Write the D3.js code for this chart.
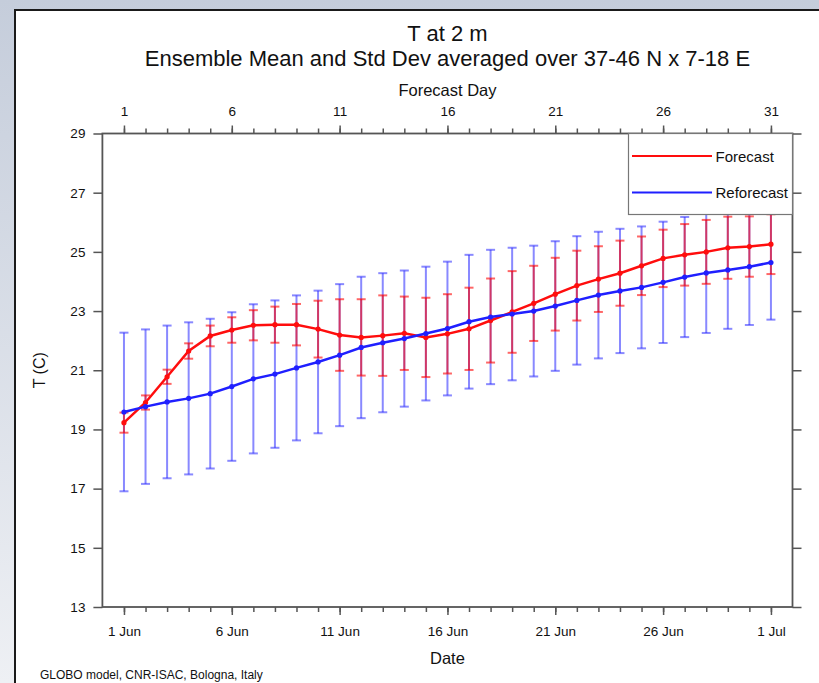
<!DOCTYPE html>
<html>
<head>
<meta charset="utf-8">
<script src="https://cdn.jsdelivr.net/npm/d3@7"></script>
<style>
  html, body { margin: 0; padding: 0; }
  body { width: 819px; height: 683px; overflow: hidden;
         background: linear-gradient(#c5cddb, #eef0f4); }
  text { font-family: "Liberation Sans", Arial, sans-serif; fill: #111; }
</style>
</head>
<body>
<div id="chart"></div>
<script>
// forecast days (x categories)
const days = [1,2,3,4,5,6,7,8,9,10,11,12,13,14,15,16,17,18,19,20,21,22,23,24,25,26,27,28,29,30,31];
const majorDays = [1, 6, 11, 16, 21, 26, 31];
const dateLabels = ['1 Jun', '6 Jun', '11 Jun', '16 Jun', '21 Jun', '26 Jun', '1 Jul'];
const tempTicks = [13, 15, 17, 19, 21, 23, 25, 27, 29];

// ensemble mean / std dev, forecast
const fcMean = [19.23, 19.91, 20.78, 21.65, 22.16, 22.36, 22.52, 22.54, 22.54, 22.39,
                22.19, 22.11, 22.17, 22.25, 22.11, 22.23, 22.40, 22.68, 22.97, 23.26,
                23.57, 23.86, 24.08, 24.28, 24.53, 24.78, 24.90, 25.00, 25.14, 25.18, 25.26];
const fcStd  = [0.34, 0.24, 0.24, 0.26, 0.35, 0.43, 0.51, 0.61, 0.70, 0.96,
                1.21, 1.29, 1.36, 1.24, 1.34, 1.34, 1.39, 1.42, 1.38, 1.27,
                1.23, 1.18, 1.11, 1.10, 0.99, 0.97, 1.04, 1.08, 1.05, 1.02, 1.01];

// ensemble mean / std dev, reforecast
const rfMean = [19.59, 19.77, 19.93, 20.05, 20.21, 20.45, 20.71, 20.87, 21.08, 21.28,
                21.51, 21.77, 21.93, 22.07, 22.24, 22.41, 22.64, 22.80, 22.90, 23.00,
                23.17, 23.36, 23.54, 23.68, 23.80, 23.97, 24.15, 24.29, 24.39, 24.50, 24.64];
const rfStd  = [2.68, 2.61, 2.58, 2.57, 2.53, 2.51, 2.52, 2.49, 2.45, 2.41,
                2.40, 2.39, 2.35, 2.30, 2.26, 2.26, 2.26, 2.27, 2.24, 2.21,
                2.19, 2.17, 2.14, 2.10, 2.06, 2.05, 2.03, 2.03, 1.99, 1.97, 1.93];

const series = [
  { name: 'Reforecast', mean: rfMean, std: rfStd, line: '#1f1fff', bar: 'rgba(40,40,255,0.55)' },
  { name: 'Forecast',   mean: fcMean, std: fcStd, line: '#ff0d0d', bar: 'rgba(255,0,0,0.6)' },
];

const width = 819;
const height = 683;
const plot = { left: 102.4, right: 792.5, top: 133.5, bottom: 607 };

const svg = d3.select('#chart')
  .append('svg')
  .attr('width', width)
  .attr('height', height);

// white panel
svg.append('rect')
  .attr('x', 15).attr('y', 10)
  .attr('width', 820).attr('height', 700)
  .attr('fill', 'white')
  .attr('stroke', '#1a1a1a')
  .attr('stroke-width', 2);

const x = d3.scaleLinear().domain([0, 32]).range([plot.left, plot.right]);
const y = d3.scaleLinear().domain([13, 29]).range([plot.bottom, plot.top]);

// error bars
const capW = 4.5;
series.forEach((s) => {
  const g = svg.append('g').attr('class', 'bars');
  const bars = g.selectAll('g')
    .data(days.map((d, i) => ({ d, lo: s.mean[i] - s.std[i], hi: s.mean[i] + s.std[i] })))
    .enter()
    .append('g')
    .attr('stroke', s.bar)
    .attr('stroke-width', 2);
  bars.append('line')
    .attr('x1', (e) => x(e.d)).attr('x2', (e) => x(e.d))
    .attr('y1', (e) => y(e.lo)).attr('y2', (e) => y(e.hi));
  bars.append('line')
    .attr('x1', (e) => x(e.d) - capW).attr('x2', (e) => x(e.d) + capW)
    .attr('y1', (e) => y(e.hi)).attr('y2', (e) => y(e.hi));
  bars.append('line')
    .attr('x1', (e) => x(e.d) - capW).attr('x2', (e) => x(e.d) + capW)
    .attr('y1', (e) => y(e.lo)).attr('y2', (e) => y(e.lo));
});

// mean lines, forecast under reforecast
[series[1], series[0]].forEach((s) => {
  const pts = days.map((d, i) => [d, s.mean[i]]);
  svg.append('path')
    .datum(pts)
    .attr('fill', 'none')
    .attr('stroke', s.line)
    .attr('stroke-width', 2.5)
    .attr('d', d3.line().x((p) => x(p[0])).y((p) => y(p[1])));
  svg.append('g')
    .selectAll('circle')
    .data(pts)
    .enter()
    .append('circle')
    .attr('cx', (p) => x(p[0]))
    .attr('cy', (p) => y(p[1]))
    .attr('r', 2.6)
    .attr('fill', s.line);
});

// axes
const axisColor = '#555';
const styleAxis = (g) => {
  g.select('.domain').remove();
  g.selectAll('line').attr('stroke', axisColor).attr('stroke-width', 1.5);
  g.selectAll('text').attr('font-size', 13.5).attr('fill', '#111')
    .attr('font-family', '"Liberation Sans", Arial, sans-serif');
};

// minor day ticks
svg.append('g')
  .attr('transform', `translate(0,${plot.bottom})`)
  .call(d3.axisBottom(x).tickValues(days).tickSize(5).tickFormat(''))
  .call(styleAxis);
svg.append('g')
  .attr('transform', `translate(0,${plot.top})`)
  .call(d3.axisTop(x).tickValues(days).tickSize(5).tickFormat(''))
  .call(styleAxis);

// major ticks with labels
svg.append('g')
  .attr('transform', `translate(0,${plot.bottom})`)
  .call(d3.axisBottom(x).tickValues(majorDays).tickSize(8).tickPadding(11)
    .tickFormat((d, i) => dateLabels[i]))
  .call(styleAxis);
svg.append('g')
  .attr('transform', `translate(0,${plot.top})`)
  .call(d3.axisTop(x).tickValues(majorDays).tickSize(8).tickPadding(10))
  .call(styleAxis);
svg.append('g')
  .attr('transform', `translate(${plot.left},0)`)
  .call(d3.axisLeft(y).tickValues(tempTicks).tickSize(9).tickPadding(8))
  .call(styleAxis);
svg.append('g')
  .attr('transform', `translate(${plot.right},0)`)
  .call(d3.axisRight(y).tickValues(tempTicks).tickSize(9).tickFormat(''))
  .call(styleAxis);

// plot frame
svg.append('rect')
  .attr('x', plot.left).attr('y', plot.top)
  .attr('width', plot.right - plot.left).attr('height', plot.bottom - plot.top)
  .attr('fill', 'none')
  .attr('stroke', axisColor)
  .attr('stroke-width', 1.8);

// legend
const lg = svg.append('g').attr('class', 'legend');
lg.append('rect')
  .attr('x', 628.5).attr('y', plot.top)
  .attr('width', plot.right - 628.5).attr('height', 81)
  .attr('fill', 'white')
  .attr('stroke', '#777')
  .attr('stroke-width', 1.2);
[series[1], series[0]].forEach((s, i) => {
  const ly = 156 + i * 36.5;
  lg.append('line')
    .attr('x1', 632).attr('x2', 712)
    .attr('y1', ly).attr('y2', ly)
    .attr('stroke', s.line)
    .attr('stroke-width', 1.8);
  lg.append('text')
    .attr('x', 715.5).attr('y', ly + 5.5)
    .attr('font-size', 15)
    .text(s.name);
});

// titles
const cx = (plot.left + plot.right) / 2;
svg.append('text').attr('x', cx).attr('y', 40.5).attr('text-anchor', 'middle')
  .attr('font-size', 22).text('T at 2 m');
svg.append('text').attr('x', cx).attr('y', 65.5).attr('text-anchor', 'middle')
  .attr('font-size', 22).text('Ensemble Mean and Std Dev averaged over 37-46 N x 7-18 E');
svg.append('text').attr('x', cx).attr('y', 96).attr('text-anchor', 'middle')
  .attr('font-size', 16.5).text('Forecast Day');
svg.append('text').attr('x', cx).attr('y', 664).attr('text-anchor', 'middle')
  .attr('font-size', 16.5).text('Date');
svg.append('text')
  .attr('transform', `translate(45,${(plot.top + plot.bottom) / 2}) rotate(-90)`)
  .attr('text-anchor', 'middle')
  .attr('font-size', 16).text('T (C)');
svg.append('text').attr('x', 40).attr('y', 679)
  .attr('font-size', 12).text('GLOBO model, CNR-ISAC, Bologna, Italy');
</script>
</body>
</html>
